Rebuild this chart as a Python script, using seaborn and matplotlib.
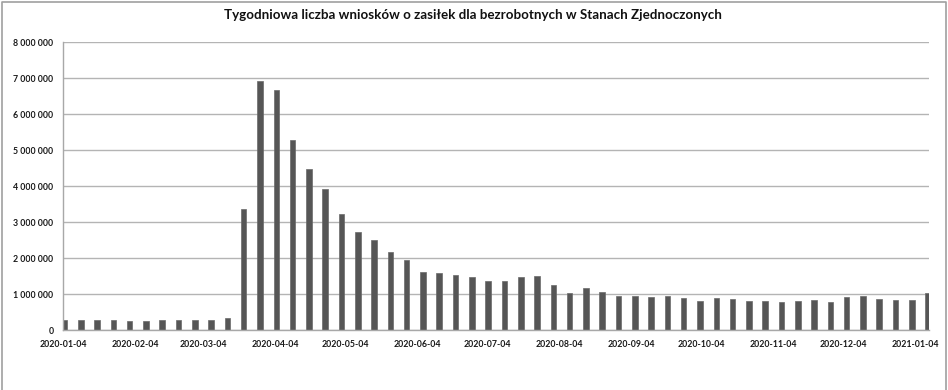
import numpy as np
import pandas as pd
import matplotlib
matplotlib.use("Agg")
import matplotlib.pyplot as plt
import matplotlib.dates as mdates
import matplotlib.ticker as mticker
from matplotlib.lines import Line2D
import seaborn as sns

# weekly dates (week ending) and claims
week_start = "2020-01-04"
n_weeks = 54
claims = [
    270000, 270000, 270000, 270000, 250000, 250000, 270000, 270000, 270000, 270000,
    330000, 3360000, 6910000, 6660000, 5290000, 4490000, 3910000, 3230000, 2730000, 2500000,
    2170000, 1960000, 1620000, 1580000, 1540000, 1460000, 1360000, 1360000, 1480000, 1500000,
    1250000, 1040000, 1170000, 1060000, 935000, 940000, 920000, 935000, 900000, 820000,
    900000, 850000, 815000, 815000, 770000, 800000, 830000, 770000, 920000, 950000,
    870000, 830000, 830000, 1020000,
]
month_ticks = [
    "2020-01-04", "2020-02-04", "2020-03-04", "2020-04-04", "2020-05-04", "2020-06-04",
    "2020-07-04", "2020-08-04", "2020-09-04", "2020-10-04", "2020-11-04", "2020-12-04",
    "2021-01-04",
]

title = "Tygodniowa liczba wniosków o zasiłek dla bezrobotnych w Stanach Zjednoczonych"

dates = pd.date_range(week_start, periods=n_weeks, freq="7D")
df = pd.DataFrame({
    "x": mdates.date2num(dates) + 0.5,
    "claims": claims,
})

sns.set_style("white")
plt.rcParams["font.family"] = ["Lato", "DejaVu Sans"]

fig = plt.figure(figsize=(9.48, 3.9), dpi=100)
ax = fig.add_axes([63.3 / 948, 60 / 390, (929.3 - 63.3) / 948, (330 - 42.3) / 390])

sns.barplot(data=df, x="x", y="claims", native_scale=True, width=0.34,
            color="#565656", saturation=1, edgecolor="#6a6a6a", linewidth=0.5, ax=ax)

ax.set_xlim(mdates.date2num(pd.Timestamp("2020-01-04")),
            mdates.date2num(pd.Timestamp("2021-01-10")))
ax.set_ylim(0, 8000000)
ax.yaxis.set_major_locator(mticker.MultipleLocator(1000000))
ax.yaxis.set_major_formatter(mticker.FuncFormatter(lambda v, p: f"{int(v):,}".replace(",", " ")))
ax.xaxis.set_major_locator(mticker.FixedLocator(mdates.date2num(pd.to_datetime(month_ticks))))
ax.xaxis.set_major_formatter(mdates.DateFormatter("%Y-%m-%d"))

ax.grid(axis="y", color="#b4b4b4", linewidth=1)
ax.set_axisbelow(True)
for side in ["top", "right"]:
    ax.spines[side].set_visible(False)
for side in ["left", "bottom"]:
    ax.spines[side].set_color("#a8a8a8")
    ax.spines[side].set_linewidth(1)
ax.tick_params(axis="both", direction="out", length=4, width=1, color="#a8a8a8",
               labelsize=6.3, pad=3)
for lab in ax.get_xticklabels() + ax.get_yticklabels():
    lab.set_fontweight("bold")
    lab.set_color("#1a1a1a")
ax.set_xlabel("")
ax.set_ylabel("")

fig.text(473 / 948, 1 - 15 / 390, title, ha="center", va="center",
         fontsize=9.6, fontweight="bold", color="#111111")

# chart-area border (left, top, right)
fig.add_artist(Line2D([1.5 / 948, 1.5 / 948, 945.5 / 948, 945.5 / 948],
                      [0, 1 - 1.5 / 390, 1 - 1.5 / 390, 0],
                      transform=fig.transFigure, color="#a0a0a0", linewidth=1.2))

fig.savefig("out.png", dpi=100)
plt.close(fig)
